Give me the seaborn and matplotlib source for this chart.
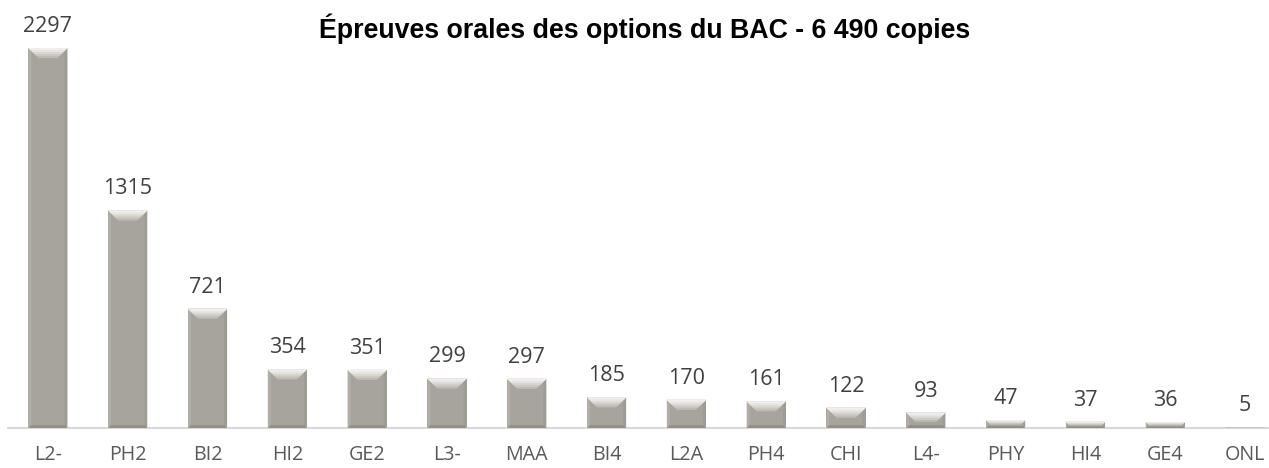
import matplotlib
matplotlib.use("Agg")
import matplotlib.pyplot as plt
from matplotlib.patches import Polygon
import seaborn as sns
import pandas as pd

# Oral option exams: number of copies per subject code
codes = ["L2-", "PH2", "BI2", "HI2", "GE2", "L3-", "MAA", "BI4",
         "L2A", "PH4", "CHI", "L4-", "PHY", "HI4", "GE4", "ONL"]
copies = [2297, 1315, 721, 354, 351, 299, 297, 185,
          170, 161, 122, 93, 47, 37, 36, 5]
title = "Épreuves orales des options du BAC - 6 490 copies"

df = pd.DataFrame({"code": codes, "copies": copies})

sns.set_theme(style="white")
plt.rcParams["font.family"] = ["Open Sans", "DejaVu Sans"]

W, H = 1269, 468
fig = plt.figure(figsize=(W / 100, H / 100), dpi=100)
ax_left, ax_right = 8, 1285
ax_bottom, ax_top = 428, 40
ax = fig.add_axes([ax_left / W, (H - ax_bottom) / H,
                   (ax_right - ax_left) / W, (ax_bottom - ax_top) / H])

bar_face = "#A6A49C"
sns.barplot(data=df, x="code", y="copies", color=bar_face, saturation=1,
            width=0.49, ax=ax, linewidth=0)

ymax = max(copies) * (ax_bottom - ax_top) / (ax_bottom - 48)
ax.set_ylim(0, ymax)
ax.set_xlim(-0.5, len(codes) - 0.5)

# pixel size of one data unit, used for the bevel depth on each bar
px_x = (ax_right - ax_left) / len(codes)
px_y = (ax_bottom - ax_top) / ymax


def quad(x0, x1, y_out, y_in, dx, color):
    ax.add_patch(Polygon([(x0, y_out), (x1, y_out), (x1 - dx, y_in), (x0 + dx, y_in)],
                         closed=True, facecolor=color, edgecolor="none", zorder=3))


for patch in ax.patches[:]:
    x0 = patch.get_x()
    w = patch.get_width()
    h = patch.get_height()
    x1 = x0 + w
    depth_px = min(10.0, h * px_y * 0.6)
    bot_px = min(3.0, h * px_y / 4)
    bdy = bot_px / px_y
    bdx = bot_px / px_x
    # side bevels
    ax.add_patch(Polygon([(x0, h), (x0 + bdx, h - bdy), (x0 + bdx, bdy), (x0, 0)],
                         closed=True, facecolor="#B0AEA7", edgecolor="none", zorder=3))
    ax.add_patch(Polygon([(x1, h), (x1 - bdx, h - bdy), (x1 - bdx, bdy), (x1, 0)],
                         closed=True, facecolor="#9E9C94", edgecolor="none", zorder=3))
    # top bevel, light towards the outer edge
    shades = ["#BDBBB4", "#CAC9C3", "#D8D7D2", "#E6E5E1", "#F0EFEC"]
    for k, c in enumerate(shades):
        f = 1 - k / len(shades)
        d = depth_px * f
        quad(x0, x1, h, h - d / px_y, d / px_x, c)
    # bottom bevel (dark)
    quad(x0, x1, 0, bdy, bdx, "#929088")

# value labels above each bar
for patch, val in zip(ax.patches, copies):
    ax.annotate(f"{val}", (patch.get_x() + patch.get_width() / 2, patch.get_height()),
                xytext=(0, 8), textcoords="offset points", ha="center", va="bottom",
                fontsize=15.5, color="#404040", zorder=4)

for side in ["top", "right", "left"]:
    ax.spines[side].set_visible(False)
ax.spines["bottom"].set_color("#D9D9D9")
ax.spines["bottom"].set_linewidth(1.5)
ax.set_yticks([])
ax.set_xlabel("")
ax.set_ylabel("")
ax.tick_params(axis="x", length=0, pad=12, labelsize=14.2, labelcolor="#595959")

fig.text(645 / W, 1 - 29 / H, title, ha="center", va="center",
         fontsize=19.3, fontweight="bold", family=["Liberation Sans", "DejaVu Sans"],
         color="black")

fig.savefig("out.png", dpi=100)
